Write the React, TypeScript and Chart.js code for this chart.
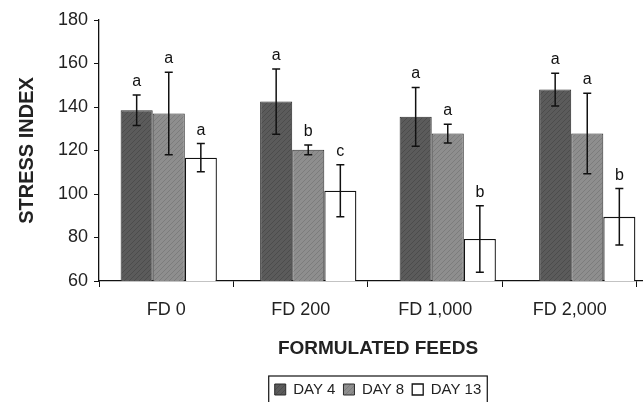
import React, { useEffect, useRef } from 'react';
import { Chart, registerables } from 'chart.js';

Chart.register(...registerables);

const categories = ['FD 0', 'FD 200', 'FD 1,000', 'FD 2,000'];
const seriesNames = ['DAY 4', 'DAY 8', 'DAY 13'];
const day4 = [138.5, 142.5, 135.5, 148];
const day8 = [137, 120.3, 127.8, 127.8];
const day13 = [116.7, 101.5, 79.3, 89.5];
const day4Err = [7, 15, 13.5, 7.5];
const day8Err = [19, 2.2, 4.3, 18.5];
const day13Err = [6.5, 12, 15.3, 13];
const day4Letters = ['a', 'a', 'a', 'a'];
const day8Letters = ['a', 'b', 'a', 'a'];
const day13Letters = ['a', 'c', 'b', 'b'];
const yMin = 60;
const yMax = 180;
const yStep = 10;
const yLabelEvery = 20;
const labelAxisMax = 3.649;
const xTitle = 'FORMULATED FEEDS';
const yTitle = 'STRESS INDEX';

const errors = [day4Err, day8Err, day13Err];
const letters = [day4Letters, day8Letters, day13Letters];

const FONT = '"Liberation Sans", Arial, sans-serif';

function makePattern(base: string, line: string): CanvasPattern | string {
  const c = document.createElement('canvas');
  c.width = 5;
  c.height = 5;
  const ctx = c.getContext('2d');
  if (!ctx) return base;
  ctx.fillStyle = base;
  ctx.fillRect(0, 0, 5, 5);
  ctx.strokeStyle = line;
  ctx.lineWidth = 1;
  ctx.beginPath();
  ctx.moveTo(0, 5);
  ctx.lineTo(5, 0);
  ctx.moveTo(-1, 1);
  ctx.lineTo(1, -1);
  ctx.moveTo(4, 6);
  ctx.lineTo(6, 4);
  ctx.stroke();
  return ctx.createPattern(c, 'repeat') || base;
}

const errorBarPlugin = {
  id: 'errorBars',
  afterDatasetsDraw(chart: any) {
    const ctx = chart.ctx;
    const yScale = chart.scales.y;
    ctx.save();
    chart.data.datasets.forEach((ds: any, di: number) => {
      const meta = chart.getDatasetMeta(di);
      meta.data.forEach((el: any, i: number) => {
        const v = ds.data[i];
        const e = errors[di][i];
        const x = el.x;
        const yTop = yScale.getPixelForValue(v + e);
        const yBot = yScale.getPixelForValue(v - e);
        ctx.strokeStyle = '#111';
        ctx.lineWidth = 1.5;
        ctx.beginPath();
        ctx.moveTo(x, yTop);
        ctx.lineTo(x, yBot);
        ctx.moveTo(x - 4, yTop);
        ctx.lineTo(x + 4, yTop);
        ctx.moveTo(x - 4, yBot);
        ctx.lineTo(x + 4, yBot);
        ctx.stroke();
        ctx.fillStyle = '#111';
        ctx.font = `16px ${FONT}`;
        ctx.textAlign = 'center';
        ctx.textBaseline = 'alphabetic';
        ctx.fillText(letters[di][i], x, yTop - 9);
      });
    });
    ctx.restore();
  },
};

const legendBoxPlugin = {
  id: 'legendBox',
  afterDraw(chart: any) {
    const lg = chart.legend;
    if (!lg || !lg.legendHitBoxes || !lg.legendHitBoxes.length) return;
    const hb = lg.legendHitBoxes;
    const last = hb[hb.length - 1];
    const x0 = hb[0].left - 6;
    const x1 = last.left + last.width + 6;
    const y0 = hb[0].top - 6;
    const y1 = hb[0].top + hb[0].height + 6;
    const ctx = chart.ctx;
    ctx.save();
    ctx.strokeStyle = '#111';
    ctx.lineWidth = 1.2;
    ctx.strokeRect(x0, y0, x1 - x0, y1 - y0);
    ctx.restore();
  },
};

export default function App() {
  const ref = useRef<HTMLCanvasElement | null>(null);

  useEffect(() => {
    if (!ref.current) return;
    const p4 = makePattern('#5b5b5b', '#4c4c4c');
    const p8 = makePattern('#8e8e8e', '#7c7c7c');
    const chart = new Chart(ref.current, {
      type: 'bar',
      data: {
        labels: categories,
        datasets: [
          { label: seriesNames[0], data: day4, backgroundColor: p4 as any, borderColor: '#2a2a2a', borderWidth: 1 },
          { label: seriesNames[1], data: day8, backgroundColor: p8 as any, borderColor: '#2a2a2a', borderWidth: 1 },
          { label: seriesNames[2], data: day13, backgroundColor: '#ffffff', borderColor: '#111', borderWidth: 1.3 },
        ],
      },
      options: {
        responsive: false,
        animation: false,
        devicePixelRatio: 1,
        layout: { padding: { top: 20, right: 3, bottom: 0, left: 0 } },
        datasets: { bar: { categoryPercentage: 0.69, barPercentage: 1.0 } },
        plugins: {
          tooltip: { enabled: false },
          legend: {
            position: 'bottom',
            fullSize: false,
            labels: {
              font: { family: FONT, size: 15 },
              color: '#222',
              boxWidth: 11,
              boxHeight: 11,
              padding: 8,
            },
          },
        },
        scales: {
          x: {
            display: false,
            grid: { display: false },
          },
          xl: {
            type: 'linear',
            axis: 'x',
            position: 'bottom',
            offset: false,
            min: -0.5,
            max: labelAxisMax,
            afterFit: (s: any) => { s.height = 93; },
            afterBuildTicks: (s: any) => {
              s.ticks = categories.map((_, i) => ({ value: i }));
            },
            grid: {
              display: true,
              drawOnChartArea: false,
              offset: true,
              tickLength: 6,
              color: '#111',
            },
            border: { display: true, color: '#111', width: 1.3 },
            ticks: {
              font: { family: FONT, size: 18 },
              color: '#222',
              padding: 12,
              maxRotation: 0,
              autoSkip: false,
              callback: (v: any) => categories[Math.round(Number(v))] ?? '',
            },
            title: {
              display: true,
              text: xTitle,
              font: { family: FONT, size: 19, weight: 'bold', lineHeight: 1.2 },
              color: '#222',
              padding: { top: 0, bottom: 14 },
            },
          },
          y: {
            min: yMin,
            max: yMax,
            afterFit: (s: any) => { s.width = 99; },
            grid: {
              display: true,
              drawOnChartArea: false,
              tickLength: 5,
              color: '#111',
            },
            border: { display: true, color: '#111', width: 1.3 },
            ticks: {
              stepSize: yStep,
              font: { family: FONT, size: 18 },
              color: '#222',
              padding: 6,
              callback: (v: any) => (Number(v) % yLabelEvery === 0 ? String(v) : ''),
            },
            title: {
              display: true,
              text: yTitle,
              font: { family: FONT, size: 20, weight: 'bold', lineHeight: 1.2 },
              color: '#222',
              padding: { top: 15, bottom: 0 },
            },
          },
        },
      },
      plugins: [errorBarPlugin, legendBoxPlugin],
    } as any);
    return () => chart.destroy();
  }, []);

  return (
    <div style={{ position: 'absolute', left: 0, top: 0, width: 643, height: 402, overflow: 'hidden', background: '#fff' }}>
      <canvas ref={ref} width={660} height={407} />
    </div>
  );
}
